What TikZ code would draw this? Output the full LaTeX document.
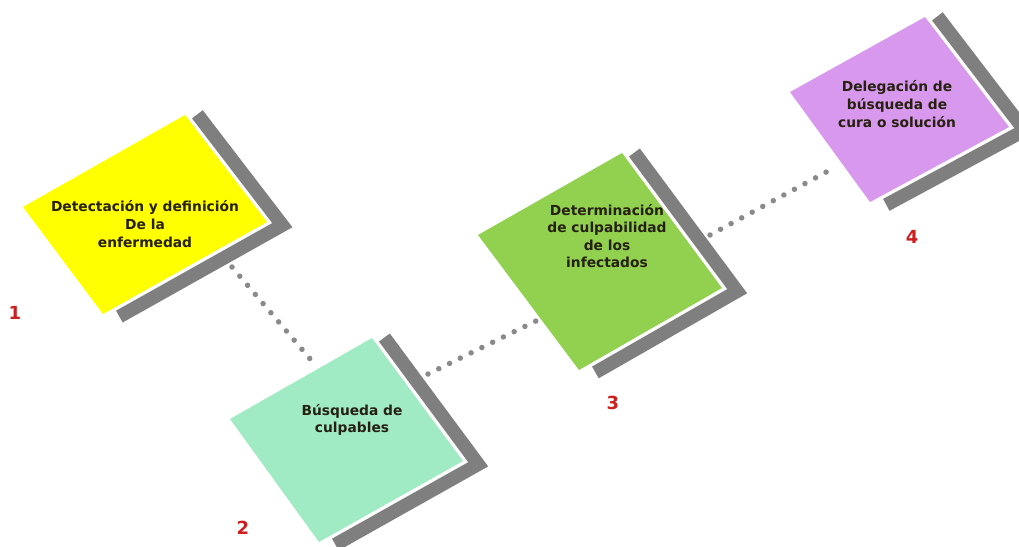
\documentclass[tikz,border=0pt]{standalone}
\usepackage{fontspec}
\setmainfont{DejaVu Sans}
\usetikzlibrary{calc}
\definecolor{cyel}{HTML}{FFFF00}
\definecolor{cmint}{HTML}{A0EBC3}
\definecolor{cgreen}{HTML}{92D050}
\definecolor{cviolet}{HTML}{D898EE}
\definecolor{cshadow}{HTML}{7F7F7F}
\definecolor{cdots}{HTML}{8A8A8A}
\definecolor{cnum}{HTML}{CC2020}
\definecolor{ctext}{HTML}{262010}
\newcommand\mkshadow[1]{%
  \coordinate (#1a) at ($(#1T)!7pt!(#1R)$);
  \coordinate (#1b) at ($(#1B)!13pt!(#1R)$);
  \coordinate (#1ai) at ($(#1a)!3.5pt!90:(#1R)$);
  \coordinate (#1ao) at ($(#1a)!17pt!90:(#1R)$);
  \coordinate (#1bi) at ($(#1b)!3.5pt!-90:(#1R)$);
  \coordinate (#1bo) at ($(#1b)!17pt!-90:(#1R)$);
  \coordinate (#1Xi) at ($(#1R)!3.5pt!-90:(#1T)$);
  \coordinate (#1Xo) at ($(#1R)!17pt!-90:(#1T)$);
  \coordinate (#1Yi) at ($(#1R)!3.5pt!90:(#1B)$);
  \coordinate (#1Yo) at ($(#1R)!17pt!90:(#1B)$);
  \coordinate (#1ic) at (intersection of #1ai--#1Xi and #1bi--#1Yi);
  \coordinate (#1oc) at (intersection of #1ao--#1Xo and #1bo--#1Yo);
  \fill[shadowband] (#1ai) -- (#1ao) -- (#1oc) -- (#1bo) -- (#1bi) -- (#1ic) -- cycle;
}
\begin{document}
\begin{tikzpicture}[x=1pt,y=-1pt,
  shadowband/.style={fill=cshadow},
  dotline/.style={draw=cdots,line width=5.5pt,line cap=round,dash pattern=on 0pt off 12pt},
  lab/.style={align=center,text=ctext,font=\bfseries\fontsize{13.8}{17.6}\selectfont,inner sep=0pt},
  num/.style={text=cnum,font=\bfseries\fontsize{18}{20}\selectfont,inner sep=0pt}]
\useasboundingbox[fill=white] (0,0) rectangle (1019,546);
% shape vertices
\coordinate (sAL) at (23,207);  \coordinate (sAT) at (185,115);
\coordinate (sAR) at (267,222); \coordinate (sAB) at (103,314);
\coordinate (sBL) at (230,419); \coordinate (sBT) at (372,338);
\coordinate (sBR) at (463,461); \coordinate (sBB) at (319,542);
\coordinate (sCL) at (478,235); \coordinate (sCT) at (622,153);
\coordinate (sCR) at (722,288); \coordinate (sCB) at (579,370);
\coordinate (sDL) at (790,92);  \coordinate (sDT) at (925,17);
\coordinate (sDR) at (1009,127); \coordinate (sDB) at (870,202);
% connector ends
\coordinate (c12a) at (232,267); \coordinate (c12b) at (317,367);
\coordinate (c23a) at (428,374); \coordinate (c23b) at (540,319);
\coordinate (c34a) at (710,235); \coordinate (c34b) at (830,170);
\draw[dotline] (c12a) -- (c12b);
\draw[dotline] (c23a) -- (c23b);
\draw[dotline] (c34a) -- (c34b);
% shadows
\mkshadow{sA}
\mkshadow{sB}
\mkshadow{sC}
\mkshadow{sD}
% shapes
\fill[cyel] (sAL) -- (sAT) -- (sAR) -- (sAB) -- cycle;
\fill[cmint] (sBL) -- (sBT) -- (sBR) -- (sBB) -- cycle;
\fill[cgreen] (sCL) -- (sCT) -- (sCR) -- (sCB) -- cycle;
\fill[cviolet] (sDL) -- (sDT) -- (sDR) -- (sDB) -- cycle;
% texts
\node[lab] (t1) at (145,224) {Detectación y definición\\De la\\enfermedad};
\node[lab] (t2) at (352,420) {Búsqueda de\\culpables};
\node[lab] (t3) at (607,236) {Determinación\\de culpabilidad\\de los\\infectados};
\node[lab] (t4) at (897,104) {Delegación de\\búsqueda de\\cura o solución};
% numbers
\node[num] (n1) at (15,313) {1};
\node[num] (n2) at (243,528) {2};
\node[num] (n3) at (613,403) {3};
\node[num] (n4) at (912,237) {4};
\end{tikzpicture}
\end{document}
